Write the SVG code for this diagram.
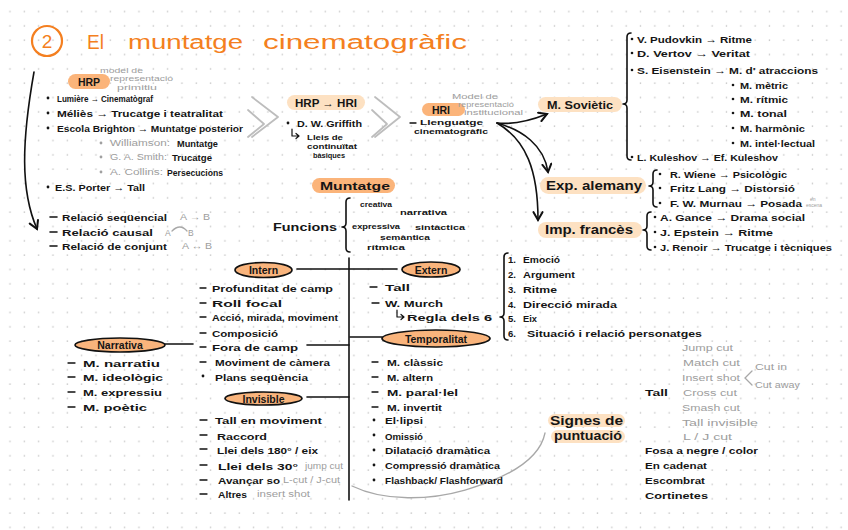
<svg xmlns="http://www.w3.org/2000/svg" width="848" height="530" viewBox="0 0 848 530">
<defs>
<pattern id="dots" width="14.33" height="14.33" patternUnits="userSpaceOnUse"><circle cx="10" cy="11.5" r="0.8" fill="#c6c6c6"/></pattern>
<marker id="ah" viewBox="0 0 10 10" refX="8" refY="5" markerWidth="7" markerHeight="7" orient="auto"><path d="M1,1 L8,5 L1,9" fill="none" stroke="#111" stroke-width="1.8" stroke-linecap="round"/></marker>
<style>
.t{font-family:"Liberation Sans",Arial,sans-serif;font-size:9.5px;font-weight:bold;fill:#151515;dominant-baseline:central}
.g{font-weight:normal;fill:#9d9d9d;font-size:8.5px}
.sm{font-size:7px}
.f{font-size:8px}
.h{font-size:10.5px}
.k{font-size:12px}
.c{text-anchor:middle}
.pill{fill:#fbb47a}
.peach{fill:#fde1c2}
.ell{fill:#f9b47c;stroke:#111;stroke-width:1.7}
.ln{fill:none;stroke:#111;stroke-width:1.6;stroke-linecap:round;stroke-linejoin:round}
.gl{fill:none;stroke:#a8a8a8;stroke-width:1.3;stroke-linecap:round}
.chev{fill:none;stroke:#bdbdbd;stroke-width:1.8;stroke-linecap:round;stroke-linejoin:round}
.b{fill:#151515}
.gb{fill:#a0a0a0}
</style>
</defs>
<rect width="848" height="530" fill="#fff"/>
<rect width="848" height="530" fill="url(#dots)"/>

<g id="title">
<circle cx="47" cy="41" r="15" fill="none" stroke="#f47f20" stroke-width="2.2"/>
<text class="t c" x="47" y="41" style="font-size:19px;font-weight:normal;fill:#f47f20">2</text>
<text class="t" x="87" y="42" textLength="17" lengthAdjust="spacingAndGlyphs" style="font-size:20px;font-weight:normal;fill:#f47f20">El</text>
<text class="t" x="128" y="42" textLength="115" lengthAdjust="spacingAndGlyphs" style="font-size:20px;font-weight:normal;fill:#f47f20">muntatge</text>
<text class="t" x="263" y="42" textLength="204" lengthAdjust="spacingAndGlyphs" style="font-size:20px;font-weight:normal;fill:#f47f20">cinematogràfic</text>
</g>

<g id="connectors">
<path class="ln" d="M34,72 C22,140 20,190 37,229" marker-end="url(#ah)"/>
<path class="chev" d="M252,97 L278,117 L252,137"/>
<path class="chev" d="M248,110 L264,124 L248,137"/>
<path class="chev" d="M375,97 L400,117 L375,137"/>
<path class="chev" d="M372,110 L387,124 L372,137"/>
<path class="ln" d="M497,123 C515,125 532,120 547,114" marker-end="url(#ah)"/>
<path class="ln" d="M497,123 C522,130 544,145 548,172" marker-end="url(#ah)"/>
<path class="ln" d="M497,123 C526,140 538,170 538,220" marker-end="url(#ah)"/>
<path class="ln" d="M349,258 L349,500"/>
<path class="ln" d="M297,269 L397,269"/>
<path class="ln" d="M307,345 L349,345"/>
<path class="ln" d="M350,337 L382,337"/>
<path class="ln" d="M307,397 L349,397"/>
<path class="ln" d="M165,344 L193,344"/>
<path class="gl" d="M352,486 C385,502 430,500 465,490 C510,477 540,458 545,433"/>
<path class="ln" d="M631,33 Q627,33 627,37 L627,100 Q627,104 623,104 Q627,104 627,108 L627,156 Q627,160 631,160"/>
<path class="ln" d="M657,170 Q653,170 653,174 L653,182 Q653,186 649,186 Q653,186 653,190 L653,203 Q653,207 657,207"/>
<path class="ln" d="M651,212 Q647,212 647,216 L647,226 Q647,230 643,230 Q647,230 647,234 L647,246 Q647,250 651,250"/>
<path class="ln" d="M350,198 Q346,198 346,202 L346,223 Q346,227 342,227 Q346,227 346,231 L346,248 Q346,252 350,252"/>
<path class="ln" d="M508,253 Q504,253 504,257 L504,313 Q504,317 500,317 Q504,317 504,321 L504,336 Q504,340 508,340"/>
<path class="gl" d="M752,371 L745,378 L752,385"/>
</g>

<g id="hrp">
<rect class="pill" x="68" y="74" width="42" height="15" rx="7.5"/>
<text class="t h c" x="89" y="82">HRP</text>
<text class="t g sm" x="100" y="70" textLength="43" lengthAdjust="spacingAndGlyphs">model de</text>
<text class="t g sm" x="110" y="78" textLength="63" lengthAdjust="spacingAndGlyphs">representació</text>
<text class="t g sm" x="117" y="87" textLength="40" lengthAdjust="spacingAndGlyphs">primitiu</text>
<circle class="b" cx="48" cy="98" r="1.4"/>
<text class="t" x="57" y="98" textLength="96" lengthAdjust="spacingAndGlyphs">Lumière → Cinematògraf</text>
<circle class="b" cx="48" cy="113" r="1.4"/>
<text class="t" x="57" y="113" textLength="166" lengthAdjust="spacingAndGlyphs">Méliès → Trucatge i teatralitat</text>
<circle class="b" cx="48" cy="128" r="1.4"/>
<text class="t" x="57" y="128" textLength="186" lengthAdjust="spacingAndGlyphs">Escola Brighton → Muntatge posterior</text>
<circle class="gb" cx="101" cy="143" r="1.4"/>
<text class="t g" x="110" y="143" textLength="60" lengthAdjust="spacingAndGlyphs">Williamson:</text>
<text class="t" x="177" y="143" textLength="41" lengthAdjust="spacingAndGlyphs">Muntatge</text>
<circle class="gb" cx="101" cy="157" r="1.4"/>
<text class="t g" x="110" y="157" textLength="57" lengthAdjust="spacingAndGlyphs">G. A. Smith:</text>
<text class="t" x="172" y="157" textLength="40" lengthAdjust="spacingAndGlyphs">Trucatge</text>
<circle class="gb" cx="101" cy="172" r="1.4"/>
<text class="t g" x="110" y="172" textLength="53" lengthAdjust="spacingAndGlyphs">A. Collins:</text>
<text class="t" x="167" y="172" textLength="56" lengthAdjust="spacingAndGlyphs">Persecucions</text>
<circle class="b" cx="48" cy="187" r="1.4"/>
<text class="t" x="55" y="187" textLength="90" lengthAdjust="spacingAndGlyphs">E.S. Porter → Tall</text>
</g>

<g id="relacions">
<path class="ln" d="M50,217 L57,217 M50,232 L57,232 M50,246 L57,246"/>
<text class="t" x="62" y="217" textLength="105" lengthAdjust="spacingAndGlyphs">Relació seqüencial</text>
<text class="t g" x="180" y="217" textLength="30" lengthAdjust="spacingAndGlyphs">A → B</text>
<text class="t" x="62" y="232" textLength="91" lengthAdjust="spacingAndGlyphs">Relació causal</text>
<text class="t g" x="165" y="233">A</text>
<path class="gl" d="M172,231 Q180,223 187,231"/>
<text class="t g" x="188" y="233">B</text>
<text class="t" x="62" y="246" textLength="105" lengthAdjust="spacingAndGlyphs">Relació de conjunt</text>
<text class="t g" x="182" y="246" textLength="30" lengthAdjust="spacingAndGlyphs">A ↔ B</text>
</g>

<g id="hrp-hri">
<rect class="peach" x="287" y="95" width="78" height="15" rx="7.5"/>
<text class="t h" x="295" y="102.5" textLength="62" lengthAdjust="spacingAndGlyphs">HRP → HRI</text>
<circle class="b" cx="288" cy="123" r="1.4"/>
<text class="t" x="297" y="123" textLength="65" lengthAdjust="spacingAndGlyphs">D. W. Griffith</text>
<path class="ln" d="M292,129 L292,136 L299,136 M296,133.5 L299,136 L296,138.5" style="stroke-width:1.2"/>
<text class="t f" x="307" y="137" textLength="36" lengthAdjust="spacingAndGlyphs">Lleis de</text>
<text class="t f" x="307" y="146" textLength="50" lengthAdjust="spacingAndGlyphs">continuïtat</text>
<text class="t f" x="313" y="155" textLength="32" lengthAdjust="spacingAndGlyphs">bàsiques</text>
</g>

<g id="hri">
<rect class="pill" x="422" y="103" width="43" height="13" rx="6.5"/>
<text class="t g sm" x="452" y="96" textLength="46" lengthAdjust="spacingAndGlyphs">Model de</text>
<text class="t g sm" x="458" y="104" textLength="56" lengthAdjust="spacingAndGlyphs">representació</text>
<text class="t g sm" x="464" y="112" textLength="59" lengthAdjust="spacingAndGlyphs">institucional</text>
<text class="t h c" x="441" y="109.5">HRI</text>
<path class="ln" d="M410,123 L416,123" style="stroke-width:1.3"/>
<text class="t sm" x="420" y="122.5" textLength="63" lengthAdjust="spacingAndGlyphs">Llenguatge</text>
<text class="t sm" x="414" y="131" textLength="74" lengthAdjust="spacingAndGlyphs">cinematogràfic</text>
</g>

<g id="sovietic">
<rect class="peach" x="538" y="97" width="84" height="15" rx="7.5"/>
<text class="t h" x="547" y="104.5" textLength="66" lengthAdjust="spacingAndGlyphs">M. Soviètic</text>
<circle class="b" cx="632" cy="39" r="1.3"/>
<text class="t" x="637" y="39" textLength="115" lengthAdjust="spacingAndGlyphs">V. Pudovkin → Ritme</text>
<circle class="b" cx="632" cy="53" r="1.3"/>
<text class="t" x="637" y="53" textLength="113" lengthAdjust="spacingAndGlyphs">D. Vertov → Veritat</text>
<circle class="b" cx="632" cy="70" r="1.3"/>
<text class="t" x="637" y="70" textLength="181" lengthAdjust="spacingAndGlyphs">S. Eisenstein → M. d' atraccions</text>
<circle class="b" cx="733" cy="85" r="1.3"/>
<text class="t" x="740" y="85" textLength="48" lengthAdjust="spacingAndGlyphs">M. mètric</text>
<circle class="b" cx="733" cy="99" r="1.3"/>
<text class="t" x="740" y="99" textLength="48" lengthAdjust="spacingAndGlyphs">M. rítmic</text>
<circle class="b" cx="733" cy="113" r="1.3"/>
<text class="t" x="740" y="113" textLength="47" lengthAdjust="spacingAndGlyphs">M. tonal</text>
<circle class="b" cx="733" cy="128" r="1.3"/>
<text class="t" x="740" y="128" textLength="65" lengthAdjust="spacingAndGlyphs">M. harmònic</text>
<circle class="b" cx="733" cy="143" r="1.3"/>
<text class="t" x="740" y="143" textLength="75" lengthAdjust="spacingAndGlyphs">M. intel·lectual</text>
<circle class="b" cx="632" cy="157" r="1.3"/>
<text class="t" x="637" y="157" textLength="141" lengthAdjust="spacingAndGlyphs">L. Kuleshov → Ef. Kuleshov</text>
</g>

<g id="exp-alemany">
<rect class="peach" x="540" y="177" width="106" height="17" rx="8.5"/>
<text class="t k" x="546" y="185.5" textLength="96" lengthAdjust="spacingAndGlyphs">Exp. alemany</text>
<circle class="b" cx="660" cy="174" r="1.3"/>
<text class="t" x="670" y="174" textLength="117" lengthAdjust="spacingAndGlyphs">R. Wiene → Psicològic</text>
<circle class="b" cx="660" cy="188" r="1.3"/>
<text class="t" x="670" y="188" textLength="125" lengthAdjust="spacingAndGlyphs">Fritz Lang → Distorsió</text>
<circle class="b" cx="660" cy="203" r="1.3"/>
<text class="t" x="670" y="203" textLength="132" lengthAdjust="spacingAndGlyphs">F. W. Murnau → Posada</text>
<text class="t g" x="810" y="199" style="font-size:5px">en</text>
<text class="t g" x="806" y="205" style="font-size:5px">escena</text>
</g>

<g id="imp-frances">
<rect class="peach" x="538" y="222" width="104" height="16" rx="8"/>
<text class="t k" x="545" y="230" textLength="88" lengthAdjust="spacingAndGlyphs">Imp. francès</text>
<circle class="b" cx="655" cy="217" r="1.3"/>
<text class="t" x="660" y="217" textLength="145" lengthAdjust="spacingAndGlyphs">A. Gance → Drama social</text>
<circle class="b" cx="655" cy="232" r="1.3"/>
<text class="t" x="660" y="232" textLength="113" lengthAdjust="spacingAndGlyphs">J. Epstein → Ritme</text>
<circle class="b" cx="655" cy="247" r="1.3"/>
<text class="t" x="660" y="247" textLength="172" lengthAdjust="spacingAndGlyphs">J. Renoir → Trucatge i tècniques</text>
</g>

<g id="muntatge">
<rect class="pill" x="312" y="178" width="83" height="15" rx="7.5"/>
<text class="t h" x="320" y="185.5" textLength="70" lengthAdjust="spacingAndGlyphs">Muntatge</text>
<text class="t h" x="273" y="227" textLength="64" lengthAdjust="spacingAndGlyphs">Funcions</text>
<text class="t f" x="360" y="204" textLength="32" lengthAdjust="spacingAndGlyphs">creativa</text>
<text class="t f" x="400" y="212" textLength="47" lengthAdjust="spacingAndGlyphs">narrativa</text>
<text class="t f" x="352" y="226" textLength="48" lengthAdjust="spacingAndGlyphs">expressiva</text>
<text class="t f" x="415" y="227" textLength="50" lengthAdjust="spacingAndGlyphs">sintàctica</text>
<text class="t f" x="380" y="237" textLength="50" lengthAdjust="spacingAndGlyphs">semàntica</text>
<text class="t f" x="367" y="247" textLength="38" lengthAdjust="spacingAndGlyphs">rítmica</text>
</g>

<g id="intern">
<ellipse class="ell" cx="263.5" cy="270" rx="28.5" ry="7.5"/>
<text class="t h c" x="263.5" y="270">Intern</text>
<path class="ln" d="M200,288 L206,288 M200,303 L206,303 M200,317 L206,317 M200,333 L206,333 M200,347 L206,347 M200,362 L206,362" style="stroke-width:1.3"/>
<circle class="b" cx="203" cy="376" r="1.4"/>
<text class="t" x="212" y="288" textLength="121" lengthAdjust="spacingAndGlyphs">Profunditat de camp</text>
<text class="t" x="212" y="303" textLength="70" lengthAdjust="spacingAndGlyphs">Roll focal</text>
<text class="t" x="212" y="317" textLength="126" lengthAdjust="spacingAndGlyphs">Acció, mirada, moviment</text>
<text class="t" x="212" y="333" textLength="66" lengthAdjust="spacingAndGlyphs">Composició</text>
<text class="t" x="212" y="347" textLength="86" lengthAdjust="spacingAndGlyphs">Fora de camp</text>
<text class="t" x="215" y="362" textLength="115" lengthAdjust="spacingAndGlyphs">Moviment de càmera</text>
<text class="t" x="215" y="377" textLength="93" lengthAdjust="spacingAndGlyphs">Plans seqüència</text>
</g>

<g id="narrativa">
<ellipse class="ell" cx="120" cy="345" rx="45" ry="7"/>
<text class="t h c" x="120" y="345">Narrativa</text>
<path class="ln" d="M68,363 L75,363 M68,377 L75,377 M68,392 L75,392 M68,407 L75,407" style="stroke-width:1.3"/>
<text class="t" x="83" y="363" textLength="77" lengthAdjust="spacingAndGlyphs">M. narratiu</text>
<text class="t" x="83" y="377" textLength="80" lengthAdjust="spacingAndGlyphs">M. ideològic</text>
<text class="t" x="83" y="392" textLength="79" lengthAdjust="spacingAndGlyphs">M. expressiu</text>
<text class="t" x="83" y="407" textLength="64" lengthAdjust="spacingAndGlyphs">M. poètic</text>
</g>

<g id="invisible">
<ellipse class="ell" cx="263.5" cy="398.5" rx="38.5" ry="6.5"/>
<text class="t h c" x="263.5" y="398.5">Invisible</text>
<path class="ln" d="M200,420 L207,420 M200,435 L207,435 M200,449 L207,449 M200,465 L207,465 M200,480 L207,480 M200,494 L207,494" style="stroke-width:1.3"/>
<text class="t" x="215" y="420" textLength="107" lengthAdjust="spacingAndGlyphs">Tall en moviment</text>
<text class="t" x="217" y="436" textLength="50" lengthAdjust="spacingAndGlyphs">Raccord</text>
<text class="t" x="217" y="450" textLength="101" lengthAdjust="spacingAndGlyphs">Llei dels 180° / eix</text>
<text class="t" x="218" y="466" textLength="80" lengthAdjust="spacingAndGlyphs">Llei dels 30°</text>
<text class="t g" x="305" y="466" textLength="38" lengthAdjust="spacingAndGlyphs">jump cut</text>
<text class="t" x="218" y="480" textLength="62" lengthAdjust="spacingAndGlyphs">Avançar so</text>
<text class="t g" x="283" y="480" textLength="57" lengthAdjust="spacingAndGlyphs">L-cut / J-cut</text>
<text class="t" x="218" y="494" textLength="29" lengthAdjust="spacingAndGlyphs">Altres</text>
<text class="t g" x="257" y="494" textLength="53" lengthAdjust="spacingAndGlyphs">insert shot</text>
</g>

<g id="extern">
<ellipse class="ell" cx="431" cy="269.5" rx="29" ry="7.5"/>
<text class="t h c" x="431" y="269.5">Extern</text>
<path class="ln" d="M370,287 L377,287 M372,303 L379,303" style="stroke-width:1.3"/>
<text class="t" x="385" y="287" textLength="25" lengthAdjust="spacingAndGlyphs">Tall</text>
<text class="t" x="385" y="303" textLength="58" lengthAdjust="spacingAndGlyphs">W. Murch</text>
<path class="ln" d="M397,310 L397,317 L404,317 M401,314.5 L404,317 L401,319.5" style="stroke-width:1.2"/>
<text class="t" x="407" y="317" textLength="85" lengthAdjust="spacingAndGlyphs">Regla dels 6</text>
<text class="t" x="508" y="259">1.</text>
<text class="t" x="523" y="259" textLength="37" lengthAdjust="spacingAndGlyphs">Emoció</text>
<text class="t" x="508" y="274">2.</text>
<text class="t" x="523" y="274" textLength="52" lengthAdjust="spacingAndGlyphs">Argument</text>
<text class="t" x="508" y="289">3.</text>
<text class="t" x="523" y="289" textLength="34" lengthAdjust="spacingAndGlyphs">Ritme</text>
<text class="t" x="508" y="304">4.</text>
<text class="t" x="523" y="304" textLength="94" lengthAdjust="spacingAndGlyphs">Direcció mirada</text>
<text class="t" x="508" y="318">5.</text>
<text class="t" x="523" y="318" textLength="14" lengthAdjust="spacingAndGlyphs">Eix</text>
<text class="t" x="508" y="333">6.</text>
<text class="t" x="527" y="333" textLength="175" lengthAdjust="spacingAndGlyphs">Situació i relació personatges</text>
</g>

<g id="temporalitat">
<ellipse class="ell" cx="436" cy="338.5" rx="54" ry="8.5"/>
<text class="t h c" x="436" y="338.5">Temporalitat</text>
<path class="ln" d="M372,362 L378,362 M372,377 L378,377 M372,392 L378,392 M372,407 L378,407" style="stroke-width:1.3"/>
<text class="t" x="387" y="362" textLength="56" lengthAdjust="spacingAndGlyphs">M. clàssic</text>
<text class="t" x="387" y="377" textLength="46" lengthAdjust="spacingAndGlyphs">M. altern</text>
<text class="t" x="387" y="392" textLength="71" lengthAdjust="spacingAndGlyphs">M. paral·lel</text>
<text class="t" x="387" y="407" textLength="55" lengthAdjust="spacingAndGlyphs">M. invertit</text>
<circle class="b" cx="374" cy="420" r="1.4"/>
<circle class="b" cx="374" cy="435" r="1.4"/>
<circle class="b" cx="374" cy="450" r="1.4"/>
<circle class="b" cx="374" cy="465" r="1.4"/>
<circle class="b" cx="374" cy="480" r="1.4"/>
<text class="t" x="385" y="420" textLength="38" lengthAdjust="spacingAndGlyphs">El·lipsi</text>
<text class="t" x="385" y="436" textLength="38" lengthAdjust="spacingAndGlyphs">Omissió</text>
<text class="t" x="385" y="450" textLength="105" lengthAdjust="spacingAndGlyphs">Dilatació dramàtica</text>
<text class="t" x="385" y="465" textLength="115" lengthAdjust="spacingAndGlyphs">Compressió dramàtica</text>
<text class="t" x="385" y="480" textLength="118" lengthAdjust="spacingAndGlyphs">Flashback/ Flashforward</text>
</g>

<g id="signes">
<rect class="peach" x="548" y="414" width="77" height="13" rx="6.5"/>
<rect class="peach" x="551" y="430" width="74" height="13" rx="6.5"/>
<text class="t k" x="550" y="421" textLength="73" lengthAdjust="spacingAndGlyphs">Signes de</text>
<text class="t k" x="554" y="436" textLength="68" lengthAdjust="spacingAndGlyphs">puntuació</text>
</g>

<g id="tipus">
<text class="t" x="645" y="392" textLength="23" lengthAdjust="spacingAndGlyphs">Tall</text>
<text class="t g" x="682" y="348" textLength="51" lengthAdjust="spacingAndGlyphs">Jump cut</text>
<text class="t g" x="683" y="363" textLength="57" lengthAdjust="spacingAndGlyphs">Match cut</text>
<text class="t g" x="682" y="378" textLength="58" lengthAdjust="spacingAndGlyphs">Insert shot</text>
<text class="t g" x="683" y="393" textLength="54" lengthAdjust="spacingAndGlyphs">Cross cut</text>
<text class="t g" x="682" y="408" textLength="58" lengthAdjust="spacingAndGlyphs">Smash cut</text>
<text class="t g" x="682" y="423" textLength="76" lengthAdjust="spacingAndGlyphs">Tall invisible</text>
<text class="t g" x="683" y="437" textLength="49" lengthAdjust="spacingAndGlyphs">L / J cut</text>
<text class="t g" x="755" y="367" textLength="32" lengthAdjust="spacingAndGlyphs">Cut in</text>
<text class="t g" x="755" y="385" textLength="45" lengthAdjust="spacingAndGlyphs">Cut away</text>
<text class="t" x="645" y="450" textLength="113" lengthAdjust="spacingAndGlyphs">Fosa a negre / color</text>
<text class="t" x="645" y="465" textLength="62" lengthAdjust="spacingAndGlyphs">En cadenat</text>
<text class="t" x="645" y="480" textLength="60" lengthAdjust="spacingAndGlyphs">Escombrat</text>
<text class="t" x="645" y="495" textLength="63" lengthAdjust="spacingAndGlyphs">Cortinetes</text>
</g>
</svg>
